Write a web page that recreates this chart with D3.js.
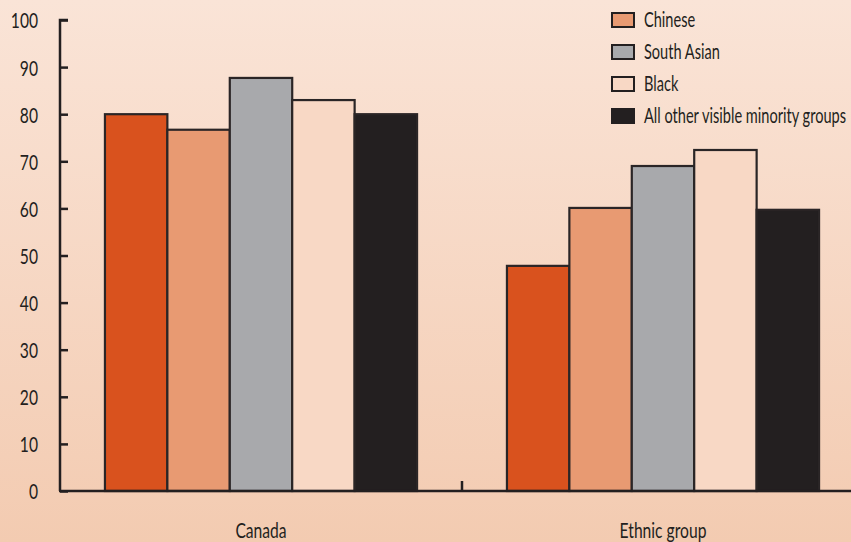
<!DOCTYPE html>
<html>
<head>
<meta charset="utf-8">
<script src="https://cdn.jsdelivr.net/npm/d3@7.9.0/dist/d3.min.js"></script>
<style>
  html, body { margin: 0; padding: 0; }
  svg { display: block; }
  text { font-family: Lato, "Open Sans", sans-serif; fill: #231f20; }
</style>
</head>
<body>
<svg id="chart" width="851" height="542"></svg>
<script>
// data
const groups = ['Canada', 'Ethnic group'];
const seriesNames = ['Total visible minority', 'Chinese', 'South Asian', 'Black', 'All other visible minority groups'];
const seriesColors = ['#d9521e', '#e89a72', '#a8a9ac', '#f8d8c5', '#231f20'];
const canadaValues = [80, 76.7, 87.7, 83, 80];
const ethnicValues = [47.8, 60.1, 69, 72.4, 59.7];
const yTicks = [0, 10, 20, 30, 40, 50, 60, 70, 80, 90, 100];

const valuesByGroup = { 'Canada': canadaValues, 'Ethnic group': ethnicValues };

const width = 851, height = 542;
const svg = d3.select('#chart');

// background gradient
const defs = svg.append('defs');
const grad = defs.append('linearGradient')
  .attr('id', 'bg').attr('x1', 0).attr('y1', 0).attr('x2', 0).attr('y2', 1);
grad.append('stop').attr('offset', '0%').attr('stop-color', '#fae4d7');
grad.append('stop').attr('offset', '100%').attr('stop-color', '#f3cbb1');
svg.append('rect').attr('width', width).attr('height', height).attr('fill', 'url(#bg)');

// scales
const x0 = d3.scaleBand().domain(groups).range([60, 864]);
const x1 = d3.scaleBand().domain(seriesNames).range([0, x0.bandwidth()]).paddingOuter(0.72);
const y = d3.scaleLinear().domain([0, 100]).range([491, 20]);

// bars
groups.forEach(g => {
  const vals = valuesByGroup[g];
  svg.append('g')
    .attr('transform', `translate(${x0(g)},0)`)
    .selectAll('rect')
    .data(seriesNames)
    .join('rect')
    .attr('x', d => x1(d))
    .attr('y', (d, i) => y(vals[i]))
    .attr('width', x1.bandwidth())
    .attr('height', (d, i) => y(0) - y(vals[i]))
    .attr('fill', (d, i) => seriesColors[i])
    .attr('stroke', '#2a2526')
    .attr('stroke-width', 2.2);
});

// y axis
const yAxis = svg.append('g')
  .attr('transform', 'translate(60,0)')
  .call(d3.axisRight(y).tickValues(yTicks).tickSize(8).tickFormat(d3.format('d')));
yAxis.select('.domain').attr('d', `M8,${y(100)}H0V${y(0)}`).attr('stroke', '#231f20').attr('stroke-width', 2.5);
yAxis.selectAll('.tick line').attr('stroke', '#231f20').attr('stroke-width', 2.5);
yAxis.selectAll('.tick text')
  .attr('x', -22)
  .attr('dy', '0.36em')
  .attr('text-anchor', 'end')
  .attr('font-size', 22)
  .attr('fill', '#231f20');

// x axis
const xAxis = svg.append('g')
  .attr('transform', 'translate(0,491)')
  .call(d3.axisBottom(x0).tickSize(0).tickPadding(0));
xAxis.select('.domain').attr('d', `M59,0H${width}`).attr('stroke', '#231f20').attr('stroke-width', 2.5);
xAxis.selectAll('.tick text')
  .attr('y', 47)
  .attr('dy', 0)
  .attr('font-size', 22)
  .attr('fill', '#231f20');
// separator tick between the two groups
xAxis.append('line')
  .attr('x1', x0('Ethnic group')).attr('x2', x0('Ethnic group'))
  .attr('y1', 0).attr('y2', -10)
  .attr('stroke', '#231f20').attr('stroke-width', 2.5);

// legend
const legend = svg.append('g').attr('transform', 'translate(612,0)');
const rowY = d3.scalePoint().domain(seriesNames).range([-12, 116]);
const items = legend.selectAll('g')
  .data(seriesNames)
  .join('g')
  .attr('transform', d => `translate(0,${rowY(d)})`);
items.append('rect')
  .attr('x', 0).attr('y', -7)
  .attr('width', 22).attr('height', 14)
  .attr('fill', (d, i) => seriesColors[i])
  .attr('stroke', '#231f20')
  .attr('stroke-width', 2);
items.append('text')
  .attr('x', 32).attr('y', 7)
  .attr('font-size', 20.5)
  .text(d => d);

// condensed look: squeeze all text by the ratio the longest legend label needs
const longest = items.filter(d => d === seriesNames[4]).select('text').node();
const squeeze = 202 / longest.getComputedTextLength();
svg.selectAll('text').each(function () {
  const t = d3.select(this);
  t.attr('lengthAdjust', 'spacingAndGlyphs')
    .attr('textLength', this.getComputedTextLength() * squeeze);
});
</script>
</body>
</html>
